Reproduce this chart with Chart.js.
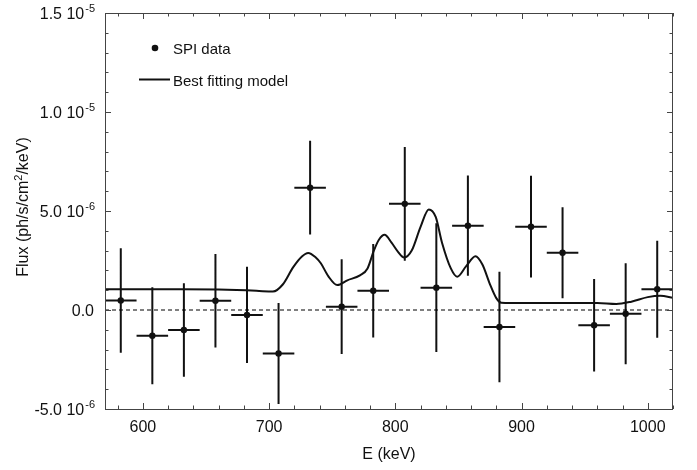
<!DOCTYPE html>
<html>
<head>
<meta charset="utf-8">
<script src="https://cdn.jsdelivr.net/npm/chart.js@4.4.0/dist/chart.umd.min.js"></script>
<style>
  html, body { margin: 0; padding: 0; background: #fff; }
</style>
</head>
<body>
<canvas id="chart" width="697" height="470"></canvas>
<script>
// ================================
// DATA
// ================================

// SPI data: bin centres (keV), bin half width, flux and 1-sigma error
var energies = [582.5, 607.5, 632.5, 657.5, 682.5, 707.5, 732.5, 757.5, 782.5,
                807.5, 832.5, 857.5, 882.5, 907.5, 932.5, 957.5, 982.5, 1007.5];
var binHalfWidth = 12.5;
var fluxValues = [0.48e-6, -1.30e-6, -1.01e-6, 0.47e-6, -0.25e-6, -2.20e-6, 6.18e-6, 0.17e-6, 0.97e-6,
                  5.36e-6, 1.13e-6, 4.26e-6, -0.86e-6, 4.21e-6, 2.89e-6, -0.77e-6, -0.19e-6, 1.05e-6];
var fluxErrors = [2.64e-6, 2.45e-6, 2.36e-6, 2.36e-6, 2.43e-6, 2.55e-6, 2.37e-6, 2.39e-6, 2.36e-6,
                  2.87e-6, 3.25e-6, 2.53e-6, 2.79e-6, 2.57e-6, 2.30e-6, 2.33e-6, 2.55e-6, 2.45e-6];

// best fitting model curve
var modelEnergy = [570, 600, 630, 660, 690, 703, 711, 719, 726, 731, 737, 741, 747, 754, 762, 772,
                   778, 783, 787, 791.5, 797, 802, 807, 813, 820, 826.5, 832, 837, 844, 849, 856,
                   863.5, 869, 875, 880, 884, 900, 930, 960, 975, 987, 1000, 1010, 1020];
var modelFlux = [1.05e-6, 1.05e-6, 1.05e-6, 1.03e-6, 0.97e-6, 0.93e-6, 1.30e-6, 2.15e-6, 2.70e-6, 2.88e-6,
                 2.65e-6, 2.36e-6, 1.70e-6, 1.26e-6, 1.50e-6, 1.75e-6, 2.10e-6, 3.00e-6, 3.55e-6, 3.80e-6,
                 3.40e-6, 2.95e-6, 2.65e-6, 3.00e-6, 4.20e-6, 5.08e-6, 4.70e-6, 3.40e-6, 2.10e-6, 1.68e-6,
                 2.20e-6, 2.72e-6, 2.30e-6, 1.30e-6, 0.60e-6, 0.37e-6, 0.35e-6, 0.35e-6, 0.35e-6, 0.30e-6,
                 0.42e-6, 0.65e-6, 0.72e-6, 0.62e-6];

// axes
var xMin = 570, xMax = 1020, xMinorStep = 20;
var xTickLabels = [600, 700, 800, 900, 1000];
var yMin = -5e-6, yMax = 1.5e-5, yMinorStep = 1e-6;
var yTickValues = [-5e-6, 0, 5e-6, 1e-5, 1.5e-5];
var yTickMantissa = ["-5.0", "0.0", "5.0", "1.0", "1.5"];
var yTickExponent = ["-6", "", "-6", "-5", "-5"];

var xTitle = "E (keV)";
var yTitleParts = ["Flux (ph/s/cm", "2", "/keV)"]; // middle part is a superscript
var legendNames = ["SPI data", "Best fitting model"];

// ================================
// BUILD DATASETS
// ================================

var points = [], vBars = [], hBars = [];
for (var i = 0; i < energies.length; i++) {
  var e = energies[i], f = fluxValues[i], s = fluxErrors[i];
  points.push({x: e, y: f});
  vBars.push({x: e, y: f - s}, {x: e, y: f + s}, {x: e, y: null});
  hBars.push({x: e - binHalfWidth, y: f}, {x: e + binHalfWidth, y: f}, {x: e, y: null});
}
var model = [];
for (var j = 0; j < modelEnergy.length; j++) {
  model.push({x: modelEnergy[j], y: modelFlux[j]});
}

var FONT = "'Liberation Sans', Arial, Helvetica, sans-serif";

// frame, inward ticks, tick labels, titles and legend
var decor = {
  id: "decor",
  afterDraw: function(chart) {
    var c = chart.ctx, a = chart.chartArea, xs = chart.scales.x, ys = chart.scales.y;
    c.save();
    c.strokeStyle = "#444";
    c.lineWidth = 1;
    c.strokeRect(a.left + 0.5, a.top + 0.5, a.right - a.left - 1, a.bottom - a.top);

    // x ticks, bottom and top
    for (var v = xMin + 10; v <= xMax; v += xMinorStep) {
      var px = Math.round(xs.getPixelForValue(v)) + 0.5;
      var len = (v % 100 === 0) ? 6 : 3.5;
      c.beginPath();
      c.moveTo(px, a.bottom); c.lineTo(px, a.bottom - len);
      c.moveTo(px, a.top); c.lineTo(px, a.top + len);
      c.stroke();
    }
    // y ticks, left and right
    for (var k = -5; k <= 15; k++) {
      var py = Math.round(ys.getPixelForValue(k * yMinorStep)) + 0.5;
      var ln = (k % 5 === 0) ? 6 : 3.5;
      c.beginPath();
      c.moveTo(a.left, py); c.lineTo(a.left + ln, py);
      c.moveTo(a.right, py); c.lineTo(a.right - ln, py);
      c.stroke();
    }

    c.fillStyle = "#111";
    // x tick labels
    c.font = "16px " + FONT;
    c.textAlign = "center";
    c.textBaseline = "alphabetic";
    xTickLabels.forEach(function(t) {
      c.fillText(String(t), xs.getPixelForValue(t), 432);
    });

    // y tick labels with superscript exponent
    yTickValues.forEach(function(t, n) {
      var py = ys.getPixelForValue(t);
      var base = yTickMantissa[n] + (yTickExponent[n] ? " 10" : "");
      c.font = "11px " + FONT;
      var supW = yTickExponent[n] ? c.measureText(yTickExponent[n]).width : 0;
      var right = a.left - 10;
      c.textAlign = "right";
      c.font = "16px " + FONT;
      c.fillText(base, right - supW - 1, py + 5.5);
      if (yTickExponent[n]) {
        c.font = "11px " + FONT;
        c.fillText(yTickExponent[n], right, py - 1);
      }
    });

    // x axis title
    c.font = "16px " + FONT;
    c.textAlign = "center";
    c.fillText(xTitle, (a.left + a.right) / 2, 459);

    // y axis title, rotated, with superscript
    c.save();
    c.translate(28, (a.top + a.bottom) / 2 - 4);
    c.rotate(-Math.PI / 2);
    c.font = "16px " + FONT;
    var w0 = c.measureText(yTitleParts[0]).width;
    var w2 = c.measureText(yTitleParts[2]).width;
    c.font = "11px " + FONT;
    var w1 = c.measureText(yTitleParts[1]).width;
    var x0 = -(w0 + w1 + w2) / 2;
    c.textAlign = "left";
    c.font = "16px " + FONT;
    c.fillText(yTitleParts[0], x0, 0);
    c.font = "11px " + FONT;
    c.fillText(yTitleParts[1], x0 + w0, -6.5);
    c.font = "16px " + FONT;
    c.fillText(yTitleParts[2], x0 + w0 + w1, 0);
    c.restore();

    // legend
    c.font = "15px " + FONT;
    c.textAlign = "left";
    c.beginPath();
    c.arc(155, 48, 3.3, 0, Math.PI * 2);
    c.fill();
    c.fillText(legendNames[0], 173, 53.5);
    c.strokeStyle = "#111";
    c.lineWidth = 2;
    c.beginPath();
    c.moveTo(139, 79.5); c.lineTo(170, 79.5);
    c.stroke();
    c.fillText(legendNames[1], 173, 86);
    c.restore();
  }
};

var ctx = document.getElementById("chart").getContext("2d");

var myChart = new Chart(ctx, {
  type: "line",
  data: {
    datasets: [
      {
        label: "zero",
        data: [{x: xMin, y: 0}, {x: xMax, y: 0}],
        borderColor: "#000",
        borderWidth: 1,
        borderDash: [4, 3],
        pointRadius: 0
      },
      {
        label: legendNames[1],
        data: model,
        borderColor: "#111",
        borderWidth: 2,
        cubicInterpolationMode: "monotone",
        pointRadius: 0
      },
      {
        label: "vbars",
        data: vBars,
        borderColor: "#111",
        borderWidth: 2,
        spanGaps: false,
        pointRadius: 0
      },
      {
        label: "hbars",
        data: hBars,
        borderColor: "#111",
        borderWidth: 2,
        spanGaps: false,
        pointRadius: 0
      },
      {
        label: legendNames[0],
        data: points,
        showLine: false,
        pointRadius: 3.2,
        pointBackgroundColor: "#111",
        pointBorderWidth: 0
      }
    ]
  },
  options: {
    responsive: false,
    animation: false,
    layout: { padding: { left: 0, right: 24, top: 13, bottom: 0 } },
    plugins: {
      legend: { display: false },
      tooltip: { enabled: false }
    },
    scales: {
      x: {
        type: "linear",
        min: xMin,
        max: xMax,
        grid: { display: false },
        border: { display: false },
        ticks: { display: false },
        afterFit: function(scale) { scale.height = 61; }
      },
      y: {
        min: yMin,
        max: yMax,
        grid: { display: false },
        border: { display: false },
        ticks: { display: false },
        afterFit: function(scale) { scale.width = 105; }
      }
    }
  },
  plugins: [decor]
});
</script>
</body>
</html>
